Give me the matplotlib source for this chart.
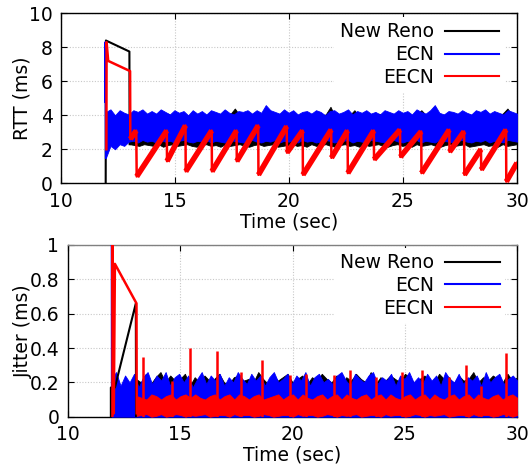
import numpy as np
import matplotlib
matplotlib.use("Agg")
import matplotlib.pyplot as plt
from matplotlib.lines import Line2D
from matplotlib.ticker import FuncFormatter

plt.rcParams['font.family'] = ['DejaVu Sans']

series_names = ["New Reno", "ECN", "EECN"]
series_colors = ["#000000", "#0000ff", "#ff0000"]
t_end = 30.0

# ---------------- RTT (ms) ----------------
reno_rtt_t = [11.96, 11.97, 13.0, 13.01]
reno_rtt_v = [0.0, 8.4, 7.75, 2.3]
ecn_rtt_t = [11.94, 11.95, 11.97]
ecn_rtt_v = [4.8, 8.3, 1.5]
eecn_rtt_t = [11.99, 12.0, 12.07, 13.03, 13.04, 13.3, 13.32, 14.64, 14.65, 15.46, 15.47,
              16.61, 16.62, 17.7, 17.71, 18.65, 18.66, 19.9, 19.91, 20.6, 20.61, 21.85,
              21.86, 22.57, 22.58, 23.72, 23.73, 24.87, 24.88, 25.8, 25.81, 27.03, 27.04,
              27.68, 27.69, 28.42, 28.43, 29.52, 29.53, 30.0]
eecn_rtt_v = [2.0, 8.3, 7.2, 6.6, 2.6, 3.1, 0.4, 3.1, 1.3, 3.4, 0.7,
              3.1, 0.7, 3.1, 1.3, 3.4, 0.5, 3.35, 1.8, 3.1, 0.5, 3.15,
              1.5, 3.1, 0.6, 3.1, 1.4, 3.15, 1.55, 3.05, 0.6, 3.15, 1.85,
              3.05, 0.5, 2.0, 0.8, 3.15, 0.1, 1.2]

# noisy bands: start time + upper / lower envelope samples (evenly spread to t_end)
ecn_rtt_start = 11.97
ecn_rtt_hi = [4.2, 4.35, 4.0, 4.3, 4.15, 4.05, 4.3, 4.2, 4.35, 4.1,
              4.25, 4.1, 4.35, 4.2, 4.05, 4.3, 4.15, 4.25, 4.0, 4.3,
              4.1, 4.25, 4.05, 4.3, 4.2, 4.1, 4.35, 4.15, 4.05, 4.25,
              4.2, 4.3, 4.1, 4.3, 4.15, 4.6, 4.3, 4.2, 4.1, 4.35,
              4.15, 4.3, 4.05, 4.2, 4.25, 4.1, 4.3, 4.2, 4.0, 4.25,
              4.3, 4.1, 4.2, 4.35, 4.05, 4.25, 4.15, 4.3, 4.1, 4.2,
              4.05, 4.3, 4.2, 4.1, 4.3, 4.15, 4.25, 4.05, 4.35, 4.2,
              4.1, 4.3, 4.6, 4.15, 4.05, 4.25, 4.2, 4.1, 4.3, 4.15,
              4.05, 4.3, 4.2, 4.35, 4.1, 4.25, 4.15, 4.05, 4.3, 4.2,
              4.1]
ecn_rtt_lo = [1.5, 2.2, 2.0, 2.3, 2.2, 2.45, 2.5, 2.4, 2.55, 2.45,
              2.5, 2.4, 2.55, 2.45, 2.5, 2.4, 2.5, 2.55, 2.45, 2.4,
              2.5, 2.45, 2.55, 2.4, 2.5, 2.45, 2.4, 2.55, 2.5, 2.45,
              2.4, 2.5, 2.55, 2.45, 2.4, 2.5, 2.45, 2.55, 2.4, 2.5,
              2.45, 2.5, 2.4, 2.55, 2.45, 2.5, 2.4, 2.45, 2.55, 2.5,
              2.4, 2.45, 2.5, 2.55, 2.4, 2.5, 2.45, 2.4, 2.55, 2.5,
              2.45, 2.4, 2.5, 2.55, 2.45, 2.4, 2.5, 2.45, 2.55, 2.4,
              2.5, 2.45, 2.4, 2.55, 2.5, 2.45, 2.4, 2.5, 2.55, 2.45,
              2.4, 2.5, 2.45, 2.55, 2.4, 2.5, 2.45, 2.4, 2.55, 2.5,
              2.45]
reno_rtt_start = 13.01
reno_rtt_hi = [4.0, 4.1, 3.95, 4.05, 4.0,
               3.9, 4.05, 4.0, 4.1, 3.95, 4.0, 4.05, 3.9, 4.1, 4.0,
               4.05, 3.95, 4.0, 4.1, 3.9, 4.0, 4.05, 4.4, 4.0, 3.95,
               4.05, 4.0, 3.9, 4.1, 4.0, 4.05, 3.95, 4.0, 4.1, 3.9,
               4.0, 4.05, 4.0, 3.95, 4.1, 4.0, 4.05, 4.5, 3.9, 4.0,
               4.05, 4.0, 4.3, 3.95, 4.0, 4.05, 3.9, 4.1, 4.0, 4.05,
               3.95, 4.0, 4.1, 3.9, 4.0, 4.05, 4.3, 4.0, 3.95, 4.1,
               4.0, 4.05, 3.9, 4.0, 4.1, 4.0, 4.05, 3.95, 4.0, 4.1,
               3.9, 4.05, 4.0, 4.1, 4.4, 4.0, 3.95]
reno_rtt_lo = [2.3, 2.25, 2.2, 2.3, 2.25,
               2.2, 2.3, 2.15, 2.25, 2.3, 2.2, 2.25, 2.3, 2.2, 2.15,
               2.25, 2.3, 2.2, 2.25, 2.15, 2.3, 2.2, 2.25, 2.3, 2.2,
               2.15, 2.25, 2.3, 2.2, 2.25, 2.3, 2.15, 2.2, 2.25, 2.3,
               2.2, 2.25, 2.15, 2.3, 2.2, 2.25, 2.3, 2.2, 2.15, 2.25,
               2.3, 2.2, 2.25, 2.15, 2.3, 2.2, 2.25, 2.3, 2.2, 2.15,
               2.25, 2.3, 2.2, 2.25, 2.15, 2.3, 2.2, 2.25, 2.3, 2.2,
               2.15, 2.25, 2.3, 2.2, 2.25, 2.3, 2.15, 2.2, 2.25, 2.3,
               2.2, 2.25, 2.15, 2.3, 2.2, 2.25, 2.3]

# ---------------- Jitter (ms) ----------------
reno_jit_t = [11.92, 11.92, 12.1, 13.03, 13.04]
reno_jit_v = [0.0, 0.17, 0.17, 0.66, 0.0]
ecn_jit_t = [11.95, 11.95, 11.96]
ecn_jit_v = [0.0, 1.0, 0.0]
eecn_jit_t = [11.99, 12.0, 12.05, 12.1, 13.06, 13.07]
eecn_jit_v = [0.0, 1.0, 0.02, 0.89, 0.66, 0.02]
eecn_spike_t = [13.33, 14.62, 15.46, 16.62, 17.72, 18.66, 19.9, 20.6, 21.84, 22.56,
                23.72, 24.86, 25.78, 26.98, 27.7, 28.38, 29.5]
eecn_spike_v = [0.35, 0.21, 0.40, 0.38, 0.26, 0.33, 0.24, 0.25, 0.24, 0.27,
                0.23, 0.26, 0.27, 0.23, 0.30, 0.18, 0.37]

ecn_jit_start = 11.95
ecn_jit_hi = [0.22, 0.26, 0.18, 0.24, 0.2, 0.25, 0.17, 0.23, 0.26, 0.19,
              0.24, 0.21, 0.26, 0.18, 0.23, 0.25, 0.2, 0.24, 0.17, 0.22,
              0.26, 0.19, 0.24, 0.21, 0.25, 0.18, 0.23, 0.2, 0.26, 0.22,
              0.19, 0.25, 0.21, 0.24, 0.18, 0.23, 0.26, 0.2, 0.22, 0.25,
              0.19, 0.24, 0.21, 0.26, 0.18, 0.23, 0.25, 0.2, 0.22, 0.19,
              0.24, 0.26, 0.21, 0.18, 0.25, 0.22, 0.2, 0.24, 0.26, 0.19,
              0.23, 0.21, 0.25, 0.18, 0.24, 0.22, 0.26, 0.2, 0.23, 0.19,
              0.25, 0.21, 0.24, 0.18, 0.26, 0.22, 0.2, 0.25, 0.19, 0.23,
              0.21, 0.24, 0.18, 0.26, 0.2, 0.23, 0.25, 0.19, 0.22, 0.24,
              0.21]
reno_jit_start = 13.04
reno_jit_hi = [0.22, 0.2, 0.25, 0.19,
               0.23, 0.26, 0.2, 0.24, 0.21, 0.22, 0.25, 0.18, 0.23, 0.2,
               0.24, 0.21, 0.22, 0.25, 0.2, 0.19, 0.23, 0.24, 0.21, 0.22,
               0.2, 0.26, 0.22, 0.19, 0.24, 0.21, 0.23, 0.25, 0.2, 0.22,
               0.24, 0.19, 0.23, 0.21, 0.25, 0.22, 0.2, 0.24, 0.18, 0.23,
               0.21, 0.25, 0.22, 0.2, 0.26, 0.19, 0.23, 0.21, 0.24, 0.22,
               0.2, 0.25, 0.23, 0.19, 0.22, 0.24, 0.21, 0.2, 0.25, 0.22,
               0.23, 0.19, 0.24, 0.21, 0.22, 0.26, 0.2, 0.23, 0.21, 0.24,
               0.22, 0.2, 0.25, 0.21, 0.23]
eecn_jit_start = 13.07
eecn_jit_hi = [0.12, 0.11, 0.1, 0.13,
               0.12, 0.1, 0.12, 0.13, 0.1, 0.12, 0.13, 0.11, 0.13, 0.11,
               0.1, 0.12, 0.13, 0.1, 0.12, 0.13, 0.1, 0.13, 0.12, 0.1,
               0.12, 0.13, 0.1, 0.11, 0.12, 0.13, 0.1, 0.12, 0.13, 0.1,
               0.13, 0.11, 0.1, 0.12, 0.13, 0.1, 0.12, 0.13, 0.1, 0.13,
               0.11, 0.1, 0.12, 0.13, 0.1, 0.12, 0.13, 0.1, 0.13, 0.11,
               0.1, 0.12, 0.13, 0.1, 0.12, 0.13, 0.1, 0.13, 0.11, 0.1,
               0.12, 0.13, 0.1, 0.12, 0.13, 0.1, 0.13, 0.11, 0.1, 0.12,
               0.13, 0.1, 0.12, 0.13, 0.11]
eecn_jit_lo = [0.005, 0.01, 0.015, 0.0,
               0.005, 0.015, 0.0, 0.005, 0.015, 0.01, 0.0, 0.01, 0.005, 0.01,
               0.015, 0.0, 0.005, 0.01, 0.01, 0.0, 0.015, 0.005, 0.01, 0.01,
               0.0, 0.005, 0.015, 0.01, 0.0, 0.005, 0.01, 0.01, 0.0, 0.015,
               0.005, 0.01, 0.01, 0.0, 0.005, 0.015, 0.01, 0.0, 0.01, 0.005,
               0.01, 0.015, 0.0, 0.005, 0.01, 0.01, 0.0, 0.015, 0.005, 0.01,
               0.01, 0.0, 0.005, 0.015, 0.01, 0.0, 0.01, 0.005, 0.01, 0.015,
               0.0, 0.005, 0.01, 0.01, 0.0, 0.015, 0.005, 0.01, 0.01, 0.0,
               0.005, 0.015, 0.01, 0.0, 0.01]

x_ticks = [10, 15, 20, 25, 30]
rtt_ticks = [0, 2, 4, 6, 8, 10]
jit_ticks = [0, 0.2, 0.4, 0.6, 0.8, 1.0]


def draw_band(ax, start, hi, lo, color, z):
    """Noisy series drawn as a solid band between its upper and lower envelope."""
    hi = np.asarray(hi, float)
    lo = np.zeros_like(hi) if lo is None else np.asarray(lo, float)
    n = min(len(hi), len(lo))
    hi, lo = hi[-n:], lo[-n:]
    t = np.linspace(start, t_end, n)
    ax.fill_between(t, lo, hi, color=color, lw=0.6, edgecolor=color, zorder=z)


FS = 13.5
fig = plt.figure(figsize=(5.32, 4.66), dpi=100)
ax1 = fig.add_axes([61/532, 1-183.3/466, 456/532, 170/466])
ax2 = fig.add_axes([67.7/532, 1-416.7/466, 449.6/532, 171.7/466])


def style(ax, label_x):
    ax.set_xlim(10, 30)
    ax.set_xticks(x_ticks)
    ax.grid(True, color="#c8c8c8", linestyle=(0, (1, 1.5)), linewidth=0.8)
    ax.set_axisbelow(True)
    ax.tick_params(direction="in", length=4.5, width=0.8, top=True, right=True,
                   labelsize=FS, pad=6)
    for s in ax.spines.values():
        s.set_linewidth(1.0)
    ax.set_xlabel("Time (sec)", fontsize=FS, labelpad=1)
    ax.yaxis.set_label_coords(label_x, 0.5)


# ---- top
draw_band(ax1, reno_rtt_start, reno_rtt_hi, reno_rtt_lo, series_colors[0], 2)
ax1.plot(reno_rtt_t, reno_rtt_v, color=series_colors[0], lw=1.5, zorder=2)
draw_band(ax1, ecn_rtt_start, ecn_rtt_hi, ecn_rtt_lo, series_colors[1], 3)
ax1.plot(ecn_rtt_t, ecn_rtt_v, color=series_colors[1], lw=1.5, zorder=3)
ax1.plot(eecn_rtt_t, eecn_rtt_v, color=series_colors[2], lw=1.8, zorder=4)
for i in range(4, len(eecn_rtt_t) - 1, 2):
    ax1.plot(eecn_rtt_t[i:i+2], eecn_rtt_v[i:i+2], color=series_colors[2], lw=4,
             solid_capstyle="butt", zorder=4)
ax1.set_ylim(0, 10)
ax1.set_yticks(rtt_ticks)
ax1.set_ylabel("RTT (ms)", fontsize=FS, va="center")
style(ax1, (22.5 - 61) / 456)

# ---- bottom
draw_band(ax2, reno_jit_start, reno_jit_hi, None, series_colors[0], 2)
draw_band(ax2, ecn_jit_start, ecn_jit_hi, None, series_colors[1], 3)
ax2.plot(ecn_jit_t, ecn_jit_v, color=series_colors[1], lw=1.0, zorder=3)
ax2.plot(reno_jit_t, reno_jit_v, color=series_colors[0], lw=1.5, zorder=3.5)
draw_band(ax2, eecn_jit_start, eecn_jit_hi, eecn_jit_lo, series_colors[2], 4)
ax2.plot(eecn_jit_t, eecn_jit_v, color=series_colors[2], lw=1.8, zorder=4)
ax2.vlines(eecn_spike_t, 0, eecn_spike_v, color=series_colors[2], lw=1.8, zorder=4)
ax2.set_ylim(0, 1)
ax2.set_yticks(jit_ticks)
ax2.yaxis.set_major_formatter(FuncFormatter(lambda v, p: f"{v:g}"))
ax2.set_ylabel("Jitter (ms)", fontsize=FS, va="center")
style(ax2, (23 - 67.7) / 449.6)
ax2.spines["top"].set_color("#808080")

handles = [Line2D([], [], color=c, lw=1.5) for c in series_colors]
for ax, dy in ((ax1, 4 / 170), (ax2, 5 / 171.7)):
    leg = ax.legend(handles, series_names, loc="upper right", markerfirst=False,
                    bbox_to_anchor=(1 - 4.5 / 456, 1 + dy),
                    fontsize=FS, frameon=True, fancybox=False, framealpha=1,
                    edgecolor="none", facecolor="white", handlelength=2.9,
                    handletextpad=0.6, labelspacing=0.2, borderpad=0.3,
                    borderaxespad=0.4)
    leg.set_zorder(6)
    for txt in leg.get_texts():
        txt.set_ha("right")

fig.savefig("out.png", dpi=100)
